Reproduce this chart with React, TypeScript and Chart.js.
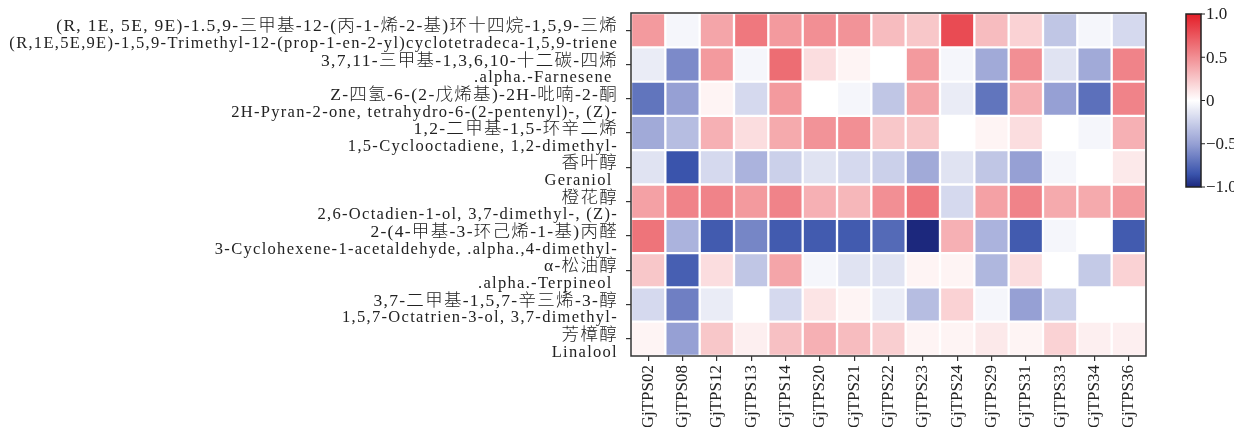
import React, { useEffect, useRef } from "react";
import { Chart, registerables } from "chart.js";

Chart.register(...registerables);

const COLUMNS = [
  "GjTPS02", "GjTPS08", "GjTPS12", "GjTPS13", "GjTPS14", "GjTPS20", "GjTPS21", "GjTPS22",
  "GjTPS23", "GjTPS24", "GjTPS29", "GjTPS31", "GjTPS33", "GjTPS34", "GjTPS36",
];

const ROW_LABELS_ZH = [
  "(R, 1E, 5E, 9E)-1.5,9-三甲基-12-(丙-1-烯-2-基)环十四烷-1,5,9-三烯",
  "3,7,11-三甲基-1,3,6,10-十二碳-四烯",
  "Z-四氢-6-(2-戊烯基)-2H-吡喃-2-酮",
  "1,2-二甲基-1,5-环辛二烯",
  "香叶醇",
  "橙花醇",
  "2-(4-甲基-3-环己烯-1-基)丙醛",
  "α-松油醇",
  "3,7-二甲基-1,5,7-辛三烯-3-醇",
  "芳樟醇",
];

const ROW_LABELS_EN = [
  "(R,1E,5E,9E)-1,5,9-Trimethyl-12-(prop-1-en-2-yl)cyclotetradeca-1,5,9-triene",
  ".alpha.-Farnesene ",
  "2H-Pyran-2-one, tetrahydro-6-(2-pentenyl)-, (Z)-",
  "1,5-Cyclooctadiene, 1,2-dimethyl-",
  "Geraniol ",
  "2,6-Octadien-1-ol, 3,7-dimethyl-, (Z)-",
  "3-Cyclohexene-1-acetaldehyde, .alpha.,4-dimethyl-",
  ".alpha.-Terpineol ",
  "1,5,7-Octatrien-3-ol, 3,7-dimethyl-",
  "Linalool",
];

// correlation values per row (columns in COLUMNS order)
const ROW_CYCLOTETRADECATRIENE = [0.45, -0.05, 0.4, 0.6, 0.45, 0.5, 0.48, 0.3, 0.25, 0.8, 0.3, 0.2, -0.3, -0.05, -0.2];
const ROW_FARNESENE = [-0.1, -0.6, 0.45, -0.05, 0.65, 0.15, 0.05, 0.0, 0.45, -0.05, -0.45, 0.5, -0.15, -0.45, 0.55];
const ROW_PYRANONE = [-0.7, -0.5, 0.05, -0.2, 0.45, 0.0, -0.05, -0.3, 0.4, -0.1, -0.7, 0.35, -0.5, -0.72, 0.55];
const ROW_CYCLOOCTADIENE = [-0.45, -0.35, 0.35, 0.15, 0.38, 0.48, 0.5, 0.25, 0.25, 0.0, 0.05, 0.15, 0.0, -0.05, 0.35];
const ROW_GERANIOL = [-0.15, -0.85, -0.2, -0.4, -0.25, -0.15, -0.2, -0.25, -0.45, -0.15, -0.3, -0.5, -0.05, 0.0, 0.1];
const ROW_NEROL = [0.42, 0.55, 0.55, 0.45, 0.55, 0.35, 0.32, 0.5, 0.6, -0.2, 0.42, 0.55, 0.38, 0.38, 0.45];
const ROW_ACETALDEHYDE = [0.62, -0.4, -0.82, -0.62, -0.82, -0.82, -0.82, -0.75, -1.0, 0.35, -0.4, -0.82, -0.05, 0.0, -0.82];
const ROW_TERPINEOL = [0.25, -0.8, 0.15, -0.3, 0.4, -0.05, -0.15, -0.15, 0.05, 0.05, -0.38, 0.15, 0.0, -0.28, 0.2];
const ROW_OCTATRIENOL = [-0.2, -0.65, -0.1, 0.0, -0.2, 0.12, 0.05, -0.1, -0.35, 0.2, -0.05, -0.5, -0.25, 0.0, 0.0];
const ROW_LINALOOL = [0.05, -0.5, 0.25, 0.07, 0.28, 0.35, 0.3, 0.22, 0.05, 0.05, 0.1, 0.05, 0.2, 0.07, 0.07];

const ROW_VALUES = [
  ROW_CYCLOTETRADECATRIENE, ROW_FARNESENE, ROW_PYRANONE, ROW_CYCLOOCTADIENE, ROW_GERANIOL,
  ROW_NEROL, ROW_ACETALDEHYDE, ROW_TERPINEOL, ROW_OCTATRIENOL, ROW_LINALOOL,
];

const COLORBAR_TICKS = [1.0, 0.5, 0, -0.5, -1.0];
const COLORBAR_TICK_LABELS = ["1.0", "0.5", "0", "\u22120.5", "\u22121.0"];

const FONT_FAMILY = "'Liberation Serif', 'Noto Sans CJK SC', serif";
const ZH_FONT = `300 17.5px ${FONT_FAMILY}`;
const EN_FONT = `16.5px ${FONT_FAMILY}`;

// colour stops [value, r, g, b]
const COLOR_STOPS: [number, number, number, number][] = [
  [-1.0, 28, 40, 125],
  [-0.85, 58, 84, 172],
  [-0.5, 150, 160, 212],
  [0.0, 255, 255, 255],
  [1.0, 228, 30, 40],
];

function colorFor(v: number): string {
  const t = Math.max(-1, Math.min(1, v));
  for (let i = 0; i < COLOR_STOPS.length - 1; i++) {
    const [v0, r0, g0, b0] = COLOR_STOPS[i];
    const [v1, r1, g1, b1] = COLOR_STOPS[i + 1];
    if (t >= v0 && t <= v1) {
      const u = (t - v0) / (v1 - v0);
      const r = Math.round(r0 + (r1 - r0) * u);
      const g = Math.round(g0 + (g1 - g0) * u);
      const b = Math.round(b0 + (b1 - b0) * u);
      return `rgb(${r},${g},${b})`;
    }
  }
  return "rgb(255,255,255)";
}

const decorations = {
  id: "decorations",
  afterDraw(chart: any) {
    const { ctx, chartArea: a } = chart;
    const ys = chart.scales.y;
    ctx.save();

    // frame
    ctx.strokeStyle = "#333";
    ctx.lineWidth = 1.5;
    ctx.strokeRect(a.left, a.top, a.right - a.left, a.bottom - a.top);

    // row labels (two lines each), placed with the y scale
    ctx.fillStyle = "#222";
    ctx.textAlign = "right";
    ctx.textBaseline = "middle";
    const xr = a.left - 13;
    ROW_LABELS_ZH.forEach((zh, i) => {
      const y = ys.getPixelForValue(i);
      (ctx as any).letterSpacing = "1.3px";
      ctx.font = ZH_FONT;
      ctx.fillText(zh, xr, y - 3.5);
      (ctx as any).letterSpacing = "1.3px";
      ctx.font = EN_FONT;
      ctx.fillText(ROW_LABELS_EN[i], xr, y + 13.5);
    });
    (ctx as any).letterSpacing = "0px";

    // colour bar
    const x0 = a.right + 40;
    const w = 15;
    const y0 = a.top + 1;
    const h = 173;
    const grad = ctx.createLinearGradient(0, y0, 0, y0 + h);
    const n = 80;
    for (let i = 0; i <= n; i++) {
      grad.addColorStop(i / n, colorFor(1 - (2 * i) / n));
    }
    ctx.fillStyle = grad;
    ctx.fillRect(x0, y0, w, h);
    ctx.lineWidth = 1.5;
    ctx.strokeStyle = "#222";
    ctx.strokeRect(x0, y0, w, h);

    ctx.font = `17px ${FONT_FAMILY}`;
    ctx.fillStyle = "#222";
    ctx.textAlign = "left";
    ctx.textBaseline = "middle";
    ctx.lineWidth = 1;
    COLORBAR_TICKS.forEach((v, i) => {
      const y = y0 + ((1 - v) / 2) * h;
      ctx.beginPath();
      ctx.moveTo(x0 + w, y);
      ctx.lineTo(x0 + w + 4, y);
      ctx.stroke();
      ctx.fillText(COLORBAR_TICK_LABELS[i], x0 + w + 5, y + 1);
    });
    ctx.restore();
  },
};

export default function App() {
  const canvasRef = useRef<HTMLCanvasElement | null>(null);

  useEffect(() => {
    if (!canvasRef.current) return;
    Chart.defaults.font.family = FONT_FAMILY;
    Chart.defaults.color = "#222";

    const datasets = ROW_VALUES.map((vals, r) => ({
      label: ROW_LABELS_EN[r],
      data: COLUMNS.map(() => [r - 0.5, r + 0.5] as [number, number]),
      backgroundColor: vals.map(colorFor),
      borderColor: "#ffffff",
      borderWidth: 1.5,
      borderSkipped: false as const,
      grouped: false,
      barPercentage: 1,
      categoryPercentage: 1,
    }));

    const chart = new Chart(canvasRef.current, {
      type: "bar",
      data: { labels: COLUMNS, datasets: datasets as any },
      plugins: [decorations],
      options: {
        animation: false,
        responsive: false,
        devicePixelRatio: 1,
        layout: { padding: { top: 5, right: 96, left: 0, bottom: 0 } },
        plugins: {
          legend: { display: false },
          tooltip: { enabled: false },
        },
        scales: {
          x: {
            type: "category",
            offset: true,
            border: { display: false },
            grid: {
              display: true,
              drawOnChartArea: false,
              offset: false,
              tickLength: 5,
              color: "#333",
              lineWidth: 1.2,
            },
            ticks: {
              autoSkip: false,
              maxRotation: 90,
              minRotation: 90,
              padding: 4,
              font: { size: 17 },
              color: "#222",
            },
            afterFit: (s: any) => {
              s.height = 79;
              s.paddingLeft = 0;
              s.paddingRight = 0;
            },
          },
          y: {
            type: "linear",
            reverse: true,
            min: -0.5,
            max: 9.5,
            border: { display: false },
            grid: {
              display: true,
              drawOnChartArea: false,
              tickLength: 5,
              color: "#333",
              lineWidth: 1.2,
            },
            afterBuildTicks: (s: any) => {
              s.ticks = ROW_LABELS_ZH.map((_, i) => ({ value: i }));
            },
            ticks: {
              autoSkip: false,
              callback: () => "",
            },
            afterFit: (s: any) => {
              s.width = 623;
              s.paddingTop = 0;
              s.paddingBottom = 0;
            },
          },
        },
      } as any,
    });
    return () => chart.destroy();
  }, []);

  return (
    <div style={{ width: 1234, height: 419 }}>
      <canvas ref={canvasRef} width={1234} height={427} style={{ display: "block" }} />
    </div>
  );
}
